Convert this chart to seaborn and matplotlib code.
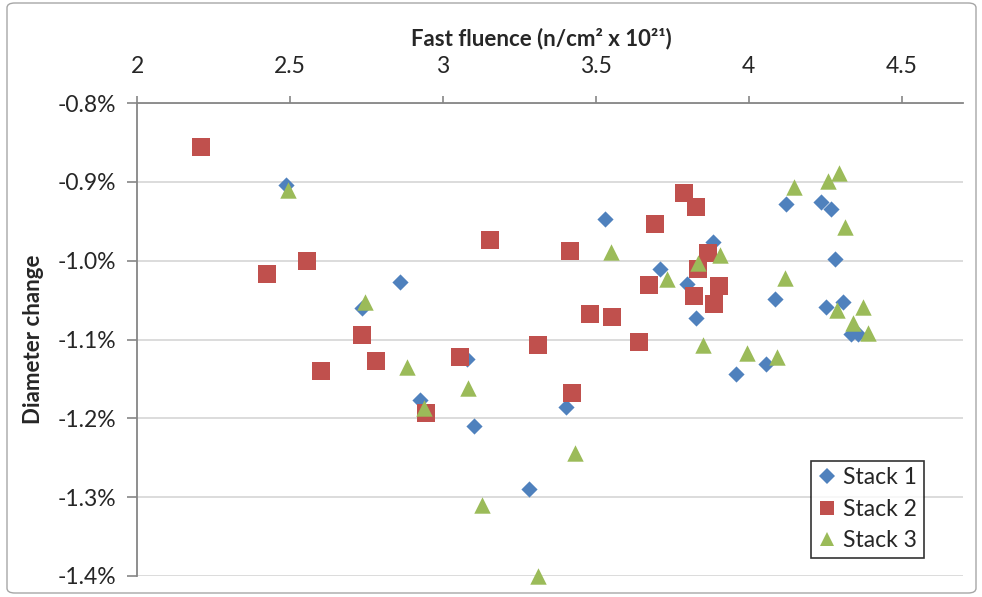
import matplotlib
matplotlib.use("Agg")
import matplotlib.pyplot as plt
import seaborn as sns
import pandas as pd
from matplotlib.ticker import FuncFormatter
from matplotlib.patches import FancyBboxPatch
from matplotlib.lines import Line2D

# Fast fluence (10^21 n/cm^2) and diameter change (%) for each stack
stack1_fluence = [2.487, 2.735, 2.859, 2.925, 3.078, 3.101, 3.281, 3.402, 3.529, 3.709,
                  3.797, 3.827, 3.882, 3.958, 4.056, 4.085, 4.121, 4.235, 4.268, 4.281,
                  4.252, 4.307, 4.333, 4.356]
stack1_change = [-0.904, -1.060, -1.027, -1.177, -1.125, -1.210, -1.290, -1.186, -0.947, -1.011,
                 -1.030, -1.073, -0.976, -1.144, -1.131, -1.049, -0.928, -0.926, -0.935, -0.998,
                 -1.059, -1.053, -1.093, -1.093]

stack2_fluence = [2.209, 2.425, 2.556, 2.601, 2.735, 2.781, 2.944, 3.056, 3.154, 3.310,
                  3.415, 3.422, 3.480, 3.552, 3.641, 3.673, 3.693, 3.788, 3.827, 3.833,
                  3.820, 3.866, 3.886, 3.902]
stack2_change = [-0.856, -1.017, -1.001, -1.140, -1.094, -1.127, -1.193, -1.122, -0.974, -1.107,
                 -0.988, -1.168, -1.068, -1.072, -1.103, -1.031, -0.954, -0.914, -0.932, -1.011,
                 -1.045, -0.990, -1.055, -1.032]

stack3_fluence = [2.493, 2.745, 2.882, 2.938, 3.082, 3.127, 3.310, 3.431, 3.549, 3.732,
                  3.833, 3.850, 3.905, 3.993, 4.092, 4.118, 4.147, 4.258, 4.294, 4.314,
                  4.288, 4.373, 4.340, 4.389]
stack3_change = [-0.910, -1.053, -1.135, -1.187, -1.162, -1.310, -1.400, -1.244, -0.989, -1.023,
                 -1.003, -1.107, -0.993, -1.117, -1.122, -1.022, -0.907, -0.899, -0.889, -0.957,
                 -1.063, -1.059, -1.079, -1.092]

series_names = ["Stack 1", "Stack 2", "Stack 3"]
x_ticks = [2, 2.5, 3, 3.5, 4, 4.5]
y_ticks = [-1.4, -1.3, -1.2, -1.1, -1.0, -0.9, -0.8]

sns.set_theme(style="white")
plt.rcParams["font.family"] = ["Lato", "DejaVu Sans"]

W, H = 982, 597
fig = plt.figure(figsize=(W / 100, H / 100), dpi=100)
ax = fig.add_axes([137 / W, 21 / H, 826 / W, 473 / H])

styles = [
    (series_names[0], stack1_fluence, stack1_change, "#4F81BD", "D", 68),
    (series_names[1], stack2_fluence, stack2_change, "#C0504D", "s", 150),
    (series_names[2], stack3_fluence, stack3_change, "#9BBB59", "^", 140),
]

for name, xs, ys, color, marker, size in styles:
    df = pd.DataFrame({"fluence": xs, "change": ys})
    sns.scatterplot(data=df, x="fluence", y="change", ax=ax, color=color,
                    marker=marker, s=size, linewidth=0, clip_on=False,
                    zorder=3, legend=False)

ax.set_xlim(2, 4.7)
ax.set_ylim(-1.4, -0.8)
ax.set_xticks(x_ticks)
ax.set_yticks(y_ticks)
ax.xaxis.set_major_formatter(FuncFormatter(lambda v, p: f"{v:g}"))
ax.yaxis.set_major_formatter(FuncFormatter(lambda v, p: f"{v:.1f}%"))

ax.xaxis.tick_top()
ax.xaxis.set_label_position("top")

axis_grey = "#868686"
for side in ["right", "bottom"]:
    ax.spines[side].set_visible(False)
for side in ["top", "left"]:
    ax.spines[side].set_visible(True)
    ax.spines[side].set_color(axis_grey)
    ax.spines[side].set_linewidth(1.3)

ax.yaxis.grid(True, color="#d9d9d9", linewidth=1.3, zorder=0)
ax.xaxis.grid(False)
ax.set_axisbelow(True)

text_color = "#262626"
ax.tick_params(axis="x", which="major", top=True, bottom=False, direction="out",
               length=5, width=1.2, color=axis_grey, pad=14, labelsize=16.5,
               labelcolor=text_color)
ax.tick_params(axis="y", which="major", left=True, direction="out",
               length=7, width=1.2, color=axis_grey, pad=8, labelsize=16.5,
               labelcolor=text_color)

ax.set_xlabel("Fast fluence (n/cm² x 10²¹)", fontsize=16, fontweight="bold",
              color=text_color)
ax.set_ylabel("Diameter change", fontsize=16, fontweight="bold", color=text_color)
ax.xaxis.set_label_coords(0.49, 1.122)
ax.yaxis.set_label_coords(-0.113, 0.5)

handles = [Line2D([], [], linestyle="none", marker=m, color=c, markersize=ms,
                  markeredgewidth=0)
           for (_, _, _, c, m, _), ms in zip(styles, [8, 10.5, 10.5])]
leg = ax.legend(handles, series_names, loc="lower right",
                bbox_to_anchor=((924 - 137) / 826, (576 - 558) / 473),
                frameon=True, fancybox=False, fontsize=16.5, handlelength=0.8,
                handletextpad=0.3, labelspacing=0.45, borderpad=0.3,
                borderaxespad=0)
leg.get_frame().set_edgecolor("#000000")
leg.get_frame().set_linewidth(1.2)
for t in leg.get_texts():
    t.set_color(text_color)

border = FancyBboxPatch((7 / W, 4 / H), (976 - 7) / W, (594 - 4) / H,
                        boxstyle="round,pad=0,rounding_size=0.008",
                        transform=fig.transFigure, fill=False,
                        edgecolor="#a6a6a6", linewidth=1.0)
fig.patches.append(border)

fig.savefig("out.png", dpi=100)
